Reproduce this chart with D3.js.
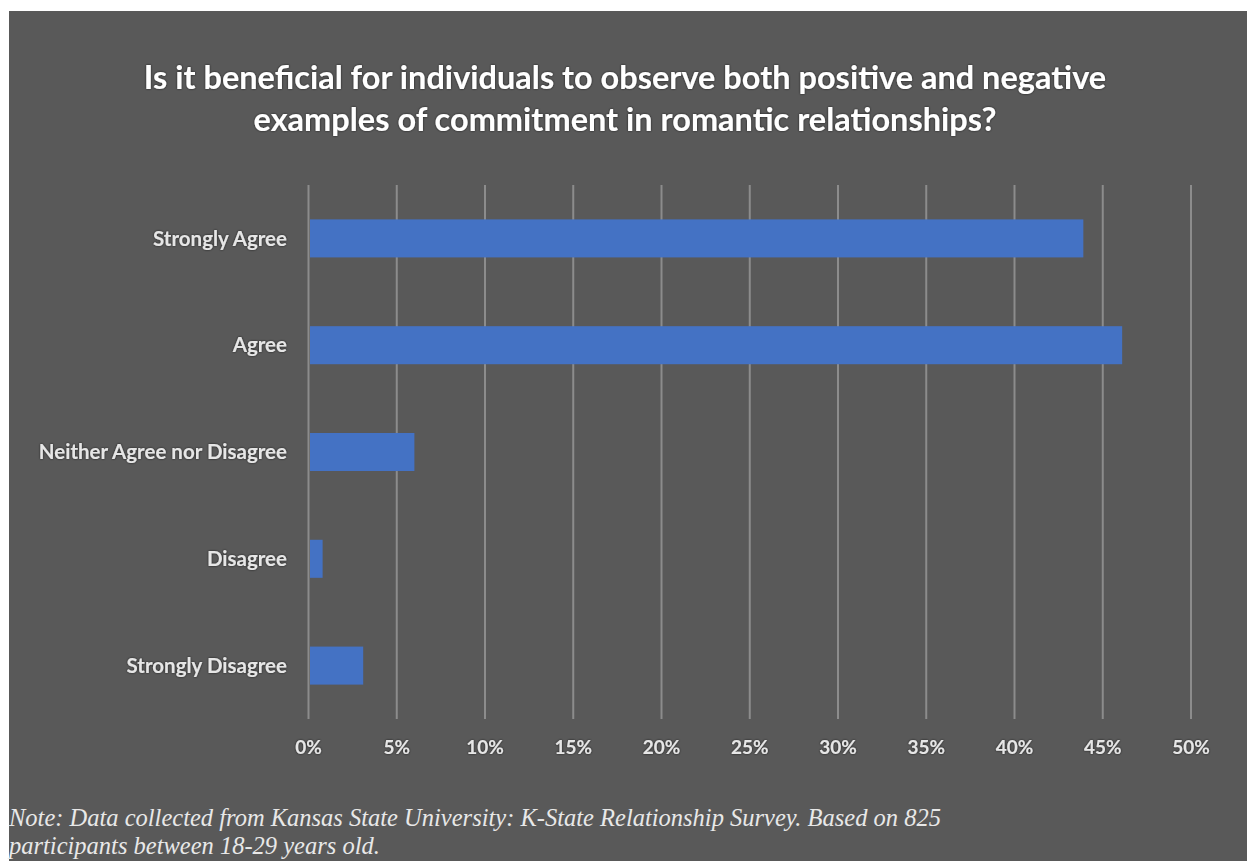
<!DOCTYPE html>
<html>
<head>
<meta charset="utf-8">
<script src="https://cdn.jsdelivr.net/npm/d3@7"></script>
<style>
  html, body { margin: 0; padding: 0; background: #ffffff; }
  svg { display: block; }
</style>
</head>
<body>
<div id="chart"></div>
<script>
// survey answers, top to bottom
const categories = ["Strongly Agree", "Agree", "Neither Agree nor Disagree", "Disagree", "Strongly Disagree"];
const shares = [43.9, 46.1, 6.0, 0.8, 3.1];
const ticks = [0, 5, 10, 15, 20, 25, 30, 35, 40, 45, 50];

const titleLines = [
  "Is it beneficial for individuals to observe both positive and negative",
  "examples of commitment in romantic relationships?"
];
const noteLines = [
  "Note: Data collected from Kansas State University: K-State Relationship Survey. Based on 825",
  "participants between 18-29 years old."
];

const width = 1247, height = 861;
const margin = { top: 185, right: 56, bottom: 142, left: 308.5 };

const svg = d3.select("#chart").append("svg")
  .attr("width", width)
  .attr("height", height);

const defs = svg.append("defs");
const glow = defs.append("filter").attr("id", "glow")
  .attr("x", "-10%").attr("y", "-30%").attr("width", "120%").attr("height", "160%");
glow.append("feDropShadow")
  .attr("dx", 0).attr("dy", 0).attr("stdDeviation", 1.2)
  .attr("flood-color", "#000").attr("flood-opacity", 0.7);

// dark panel
svg.append("rect")
  .attr("x", 9).attr("y", 11)
  .attr("width", width - 9).attr("height", height - 11)
  .attr("fill", "#595959");

const x = d3.scaleLinear()
  .domain([0, 50])
  .range([margin.left, width - margin.right]);

const y = d3.scaleBand()
  .domain(categories)
  .range([margin.top, height - margin.bottom])
  .paddingInner(0.644)
  .paddingOuter(0.322);

// gridlines
svg.append("g")
  .selectAll("line")
  .data(ticks)
  .join("line")
  .attr("x1", d => x(d)).attr("x2", d => x(d))
  .attr("y1", margin.top).attr("y2", height - margin.bottom)
  .attr("stroke", "#8c8c8c")
  .attr("stroke-width", 2);

// bars
svg.append("g")
  .selectAll("rect")
  .data(categories)
  .join("rect")
  .attr("x", x(0) + 1.5)
  .attr("y", d => y(d))
  .attr("width", (d, i) => x(shares[i]) - x(0) - 1.5)
  .attr("height", y.bandwidth())
  .attr("fill", "#4472c4");

// x axis labels
svg.append("g")
  .attr("filter", "url(#glow)")
  .selectAll("text")
  .data(ticks)
  .join("text")
  .attr("x", d => x(d))
  .attr("y", 754)
  .attr("text-anchor", "middle")
  .attr("font-family", "Lato, 'Open Sans', sans-serif")
  .attr("font-weight", 700)
  .attr("font-size", 19)
  .attr("fill", "#e6e6e6")
  .text(d => d + "%");

// category labels
svg.append("g")
  .attr("filter", "url(#glow)")
  .selectAll("text")
  .data(categories)
  .join("text")
  .attr("x", 287)
  .attr("y", d => y(d) + y.bandwidth() / 2)
  .attr("dy", "0.35em")
  .attr("text-anchor", "end")
  .attr("font-family", "Lato, 'Open Sans', sans-serif")
  .attr("font-weight", 700)
  .attr("font-size", 20.5)
  .attr("fill", "#e6e6e6")
  .text(d => d);

// title
svg.append("g")
  .attr("filter", "url(#glow)")
  .selectAll("text")
  .data(titleLines)
  .join("text")
  .attr("x", 625)
  .attr("y", (d, i) => 89 + i * 42)
  .attr("text-anchor", "middle")
  .attr("font-family", "Lato, 'Open Sans', sans-serif")
  .attr("font-weight", 700)
  .attr("font-size", 32.5)
  .attr("fill", "#ffffff")
  .text(d => d);

// footnote
svg.append("g")
  .selectAll("text")
  .data(noteLines)
  .join("text")
  .attr("x", 9)
  .attr("y", (d, i) => 826 + i * 28)
  .attr("font-family", "'Liberation Serif', 'DejaVu Serif', serif")
  .attr("font-style", "italic")
  .attr("font-size", 24.5)
  .attr("fill", "#e8e8e8")
  .text(d => d);
</script>
</body>
</html>
